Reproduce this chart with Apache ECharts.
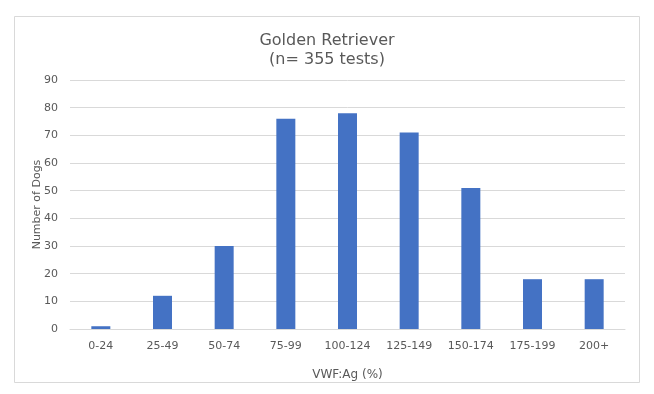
<!DOCTYPE html>
<html><head><meta charset="utf-8">
<script src="https://cdn.jsdelivr.net/npm/echarts@6/dist/echarts.min.js"></script>
<style>html,body{margin:0;padding:0;background:#fff}#c{width:654px;height:394px}</style>
</head><body><div id="c"></div>
<script>
const categories = ["0-24","25-49","50-74","75-99","100-124","125-149","150-174","175-199","200+"];
const dogCounts = [1,12,30,76,78,71,51,18,18];
const yTicks = {min:0, max:90, interval:10};

const chart = echarts.init(document.getElementById('c'), null, {renderer:'canvas'});
chart.setOption({
  animation:false,
  backgroundColor:'#fff',
  graphic:[{type:'rect', shape:{x:14.5,y:16.5,width:625,height:366}, style:{fill:'none', stroke:'#d9d9d9', lineWidth:1}}],
  title:{
    text:'Golden Retriever\n(n= 355 tests)',
    left:'center', top:26,
    textStyle:{fontFamily:'DejaVu Sans', fontSize:16, fontWeight:'normal', color:'#595959', lineHeight:19}
  },
  grid:{left:70, right:29, top:80, bottom:65, containLabel:false},
  xAxis:{
    type:'category', data:categories,
    name:'VWF:Ag (%)', nameLocation:'middle', nameGap:40,
    nameTextStyle:{fontFamily:'DejaVu Sans', fontSize:12, color:'#595959'},
    axisLine:{lineStyle:{color:'#d9d9d9'}},
    axisTick:{show:false},
    axisLabel:{fontFamily:'DejaVu Sans', fontSize:11, color:'#595959', margin:12}
  },
  yAxis:{
    type:'value', min:yTicks.min, max:yTicks.max, interval:yTicks.interval,
    name:'Number of Dogs', nameLocation:'middle', nameGap:27, nameRotate:90, nameMoveOverlap:false,
    nameTextStyle:{fontFamily:'DejaVu Sans', fontSize:11, color:'#595959'},
    axisLine:{show:false}, axisTick:{show:false},
    splitLine:{lineStyle:{color:'#d9d9d9'}},
    axisLabel:{fontFamily:'DejaVu Sans', fontSize:11, color:'#595959', margin:12}
  },
  series:[{type:'bar', data:dogCounts, barWidth:19, itemStyle:{color:'#4472C4'}}]
});
</script></body></html>
